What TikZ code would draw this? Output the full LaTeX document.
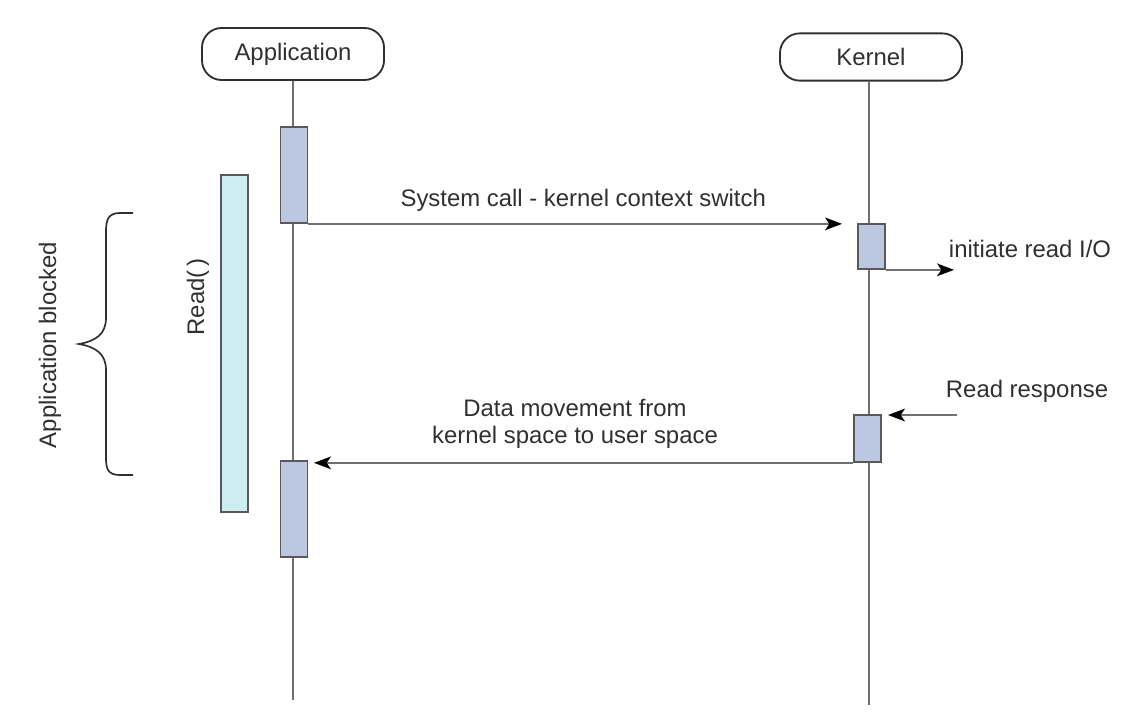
\documentclass[tikz,border=0pt]{standalone}
\usepackage{fontspec}
\setmainfont{Liberation Sans}
\usepackage{tikz}
\usetikzlibrary{arrows.meta}
\definecolor{lifegray}{HTML}{707070}
\definecolor{actfill}{HTML}{BCC8E2}
\definecolor{readfill}{HTML}{CDEDF3}
\definecolor{txtgray}{HTML}{303030}

\begin{document}
\begin{tikzpicture}[x=0.025cm,y=-0.025cm,
    every node/.style={font=\fontsize{17}{19.5}\selectfont,text=txtgray},
    head/.style={draw=txtgray,line width=1.3pt,rounded corners=14pt,
      minimum width=4.55cm,fill=white},
    life/.style={draw=lifegray,line width=1.6pt},
    act/.style={draw=black!65,line width=1.2pt,fill=actfill,
      minimum width=0.68cm,inner sep=0pt},
    msg/.style={draw=lifegray,line width=1.6pt,
      -{Stealth[length=12pt,width=9pt,inset=3pt,color=black]}}]
 \useasboundingbox (0,0) rectangle (1138,724);
 % heads and life lines
 \node[head,minimum height=1.3cm] (app) at (293,54) {Application};
 \node[head,minimum height=1.18cm] (kern) at (871,57) {Kernel};
 \coordinate (append) at (293,700);
 \coordinate (kernend) at (869,705);
 \draw[life] (app) -- (append);
 \draw[life] (kern.south -| kernend) -- (kernend);
 % read call
 \node[act,fill=readfill,minimum width=0.675cm,minimum height=8.425cm] (rd) at (234.5,343.5) {};
 \node[rotate=90] (rdlbl) at (198,297) {Read(\,)};
 % activations
 \node[act,minimum height=2.4cm] (a1) at (294,175) {};
 \node[act,minimum height=1.125cm] (k1) at (871.5,246.5) {};
 \node[act,minimum height=1.175cm] (k2) at (867.5,438.5) {};
 \node[act,minimum height=2.4cm] (a2) at (294,509) {};
 % messages
 \coordinate (sc) at (842,223);
 \draw[msg] (a1.south east) -- (a1.south east -| sc)
   node[pos=0.515,above=5pt] (sclbl) {System call - kernel context switch};
 \coordinate (io) at (954,269);
 \draw[msg] (k1.south east) -- (k1.south east -| io);
 \node[anchor=west] (iolbl) at (944,249) {initiate read I/O};
 \coordinate (rr) at (957,415);
 \coordinate (rrend) at (888,415);
 \draw[msg] (rr) -- (rrend);
 \node[anchor=west] (rrlbl) at (941,391) {Read response};
 \coordinate (dm) at (314,462);
 \draw[msg] (k2.south west) -- (k2.south west -| dm);
 \node[align=center] (dmlbl) at (575,424) {Data movement from\\kernel space to user space};
 % brace
 \draw[draw=txtgray,line width=1.2pt] (133,213) -- (120,213)
   .. controls (108,213) and (106,220) .. (106,232) -- (106,318)
   .. controls (106,334) and (96,341) .. (79,344)
   .. controls (96,347) and (106,354) .. (106,370) -- (106,458)
   .. controls (106,469) and (108,475) .. (120,475) -- (133,475);
 \node[rotate=90] (blk) at (50,345) {Application blocked};
\end{tikzpicture}
\end{document}
